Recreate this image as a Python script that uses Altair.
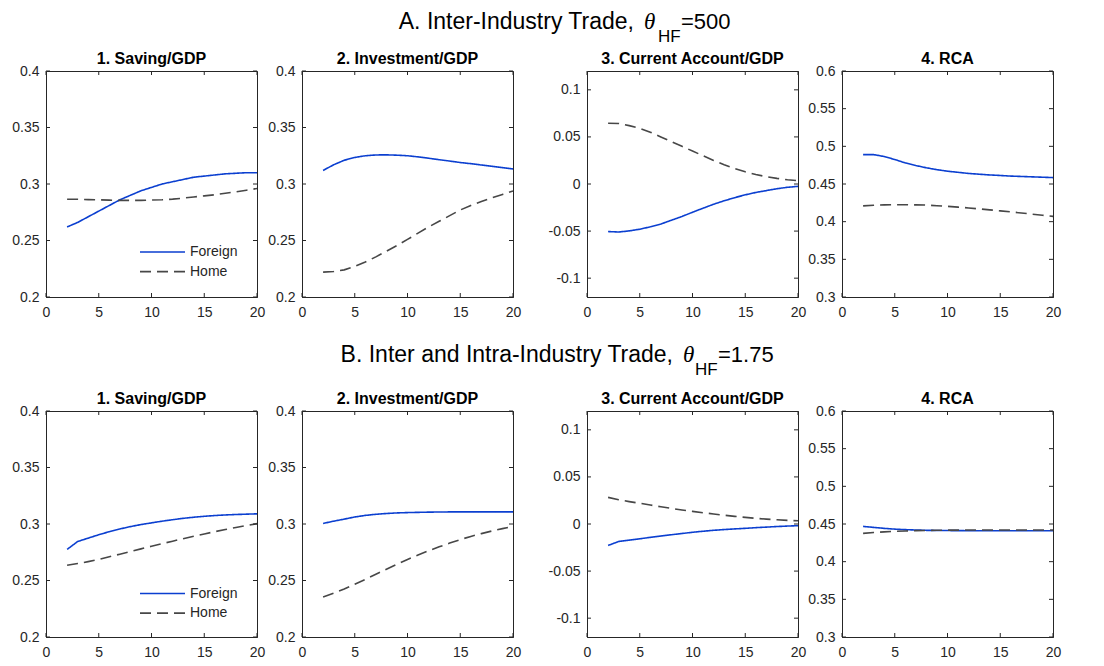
import altair as alt
import pandas as pd

FONT = "Liberation Sans"
SERIF = "Liberation Serif"
INK = "#262626"
BLUE = "#0b3fd0"
GRAY = "#474747"

X = [2, 3, 4, 5, 6, 7, 8, 9, 10, 11, 12, 13, 14, 15, 16, 17, 18, 19, 20]
XTICKS = [0, 5, 10, 15, 20]
SERIES = ["Foreign", "Home"]

# Panel A: Inter-Industry Trade
A_SAV_F = [0.262, 0.266, 0.271, 0.276, 0.281, 0.286, 0.290, 0.294, 0.297, 0.300, 0.302, 0.304, 0.306, 0.307, 0.308, 0.309, 0.3095, 0.310, 0.310]
A_SAV_H = [0.2865, 0.2865, 0.2862, 0.286, 0.2857, 0.2855, 0.2855, 0.2855, 0.2858, 0.286, 0.2866, 0.2875, 0.2885, 0.2895, 0.2905, 0.2918, 0.293, 0.2945, 0.296]
A_INV_F = [0.312, 0.317, 0.321, 0.3235, 0.325, 0.3257, 0.3258, 0.3255, 0.325, 0.324, 0.3228, 0.3215, 0.3203, 0.319, 0.318, 0.3168, 0.3157, 0.3145, 0.3133]
A_INV_H = [0.222, 0.2225, 0.224, 0.227, 0.231, 0.2355, 0.2405, 0.2455, 0.251, 0.2565, 0.262, 0.267, 0.272, 0.277, 0.281, 0.2845, 0.2878, 0.2908, 0.2938]
A_CA_F = [-0.0505, -0.051, -0.0498, -0.048, -0.0455, -0.0425, -0.0385, -0.0345, -0.030, -0.0257, -0.0215, -0.0178, -0.0145, -0.0115, -0.009, -0.007, -0.005, -0.0035, -0.0025]
A_CA_H = [0.0645, 0.0643, 0.062, 0.059, 0.055, 0.050, 0.045, 0.040, 0.035, 0.030, 0.025, 0.0205, 0.0165, 0.013, 0.010, 0.0078, 0.006, 0.0045, 0.0035]
A_RCA_F = [0.489, 0.489, 0.4865, 0.4825, 0.478, 0.4745, 0.4715, 0.469, 0.467, 0.4655, 0.464, 0.463, 0.462, 0.4613, 0.4605, 0.46, 0.4595, 0.459, 0.4585]
A_RCA_H = [0.421, 0.4218, 0.4223, 0.4225, 0.4225, 0.4223, 0.422, 0.4212, 0.4203, 0.4193, 0.4182, 0.417, 0.4157, 0.4143, 0.413, 0.4115, 0.41, 0.4085, 0.407]

# Panel B: Inter and Intra-Industry Trade
B_SAV_F = [0.2775, 0.2845, 0.2875, 0.2905, 0.2932, 0.2956, 0.2977, 0.2995, 0.301, 0.3025, 0.3038, 0.305, 0.306, 0.3068, 0.3075, 0.308, 0.3084, 0.3087, 0.309]
B_SAV_H = [0.2635, 0.265, 0.2667, 0.2686, 0.271, 0.2733, 0.2757, 0.278, 0.2803, 0.2826, 0.2848, 0.287, 0.2891, 0.2912, 0.2932, 0.2951, 0.2969, 0.2986, 0.3003]
B_INV_F = [0.3005, 0.3025, 0.3043, 0.3062, 0.3076, 0.3086, 0.3093, 0.3098, 0.3101, 0.3103, 0.3105, 0.3106, 0.3107, 0.3107, 0.3107, 0.3107, 0.3107, 0.3107, 0.3107]
B_INV_H = [0.2355, 0.2388, 0.2425, 0.2466, 0.251, 0.2555, 0.26, 0.2643, 0.2686, 0.2725, 0.2763, 0.2798, 0.2831, 0.2862, 0.289, 0.2915, 0.2938, 0.2959, 0.2979]
B_CA_F = [-0.0228, -0.0186, -0.0171, -0.0157, -0.0142, -0.0128, -0.0114, -0.0101, -0.0088, -0.0077, -0.0067, -0.0059, -0.0052, -0.0046, -0.0039, -0.0033, -0.0027, -0.0022, -0.0018]
B_CA_H = [0.0283, 0.0258, 0.0238, 0.022, 0.0201, 0.0183, 0.0166, 0.0149, 0.0134, 0.012, 0.0106, 0.0093, 0.0081, 0.007, 0.006, 0.0052, 0.0045, 0.0039, 0.0034]
B_RCA_F = [0.4468, 0.4455, 0.4442, 0.4432, 0.4425, 0.442, 0.4416, 0.4414, 0.4413, 0.4412, 0.4411, 0.4411, 0.441, 0.441, 0.441, 0.441, 0.441, 0.441, 0.441]
B_RCA_H = [0.4375, 0.4387, 0.4396, 0.4403, 0.4408, 0.4412, 0.4415, 0.4417, 0.4418, 0.4419, 0.442, 0.442, 0.442, 0.442, 0.442, 0.442, 0.442, 0.442, 0.442]

PANEL_TITLES = ["1. Saving/GDP", "2. Investment/GDP", "3. Current Account/GDP", "4. RCA"]
Y_DOMAINS = [[0.2, 0.4], [0.2, 0.4], [-0.12, 0.12], [0.3, 0.6]]
Y_TICKS = [
    [0.2, 0.25, 0.3, 0.35, 0.4],
    [0.2, 0.25, 0.3, 0.35, 0.4],
    [-0.1, -0.05, 0, 0.05, 0.1],
    [0.3, 0.35, 0.4, 0.45, 0.5, 0.55, 0.6],
]
ROW_A_TITLE = ["A. Inter-Industry Trade,", "θ", "HF", "=500"]
ROW_B_TITLE = ["B. Inter and Intra-Industry Trade,", "θ", "HF", "=1.75"]

W, H = 211, 226
Y_EXT = [34, 35, 64, 31]
TITLE_OFFSET = [-3, -3, 4, -3]
TICK = 4


def panel(i, foreign, home, legend_y=None):
    df = pd.DataFrame({
        "x": X + X,
        "y": list(foreign) + list(home),
        "s": ["Foreign"] * len(X) + ["Home"] * len(X),
    })
    xs = alt.Scale(domain=[0, 20], nice=False, zero=False)
    ys = alt.Scale(domain=Y_DOMAINS[i], nice=False, zero=False)
    common = dict(title=None, grid=False, domain=True, domainColor=INK, domainWidth=1,
                  ticks=False,
                  labelFont=FONT, labelFontSize=14, labelColor=INK,
                  labelFlush=False, labelOverlap=False, labelBound=False,
                  labelExpr="'' + datum.value")
    xaxis = alt.Axis(values=XTICKS, labelPadding=8, **common)
    yaxis = alt.Axis(values=Y_TICKS[i], labelPadding=7,
                     minExtent=Y_EXT[i], maxExtent=Y_EXT[i], **common)
    if legend_y is not None:
        leg = alt.Legend(title=None, orient="none", legendX=108, legendY=legend_y,
                         symbolType="M-3,0H3", symbolSize=225, symbolStrokeWidth=1.6,
                         labelFont=FONT, labelFontSize=14, labelColor=INK,
                         labelOffset=19, rowPadding=3.6, padding=0)
    else:
        leg = None
    lines = alt.Chart(df).mark_line(strokeWidth=1.6).encode(
        x=alt.X("x:Q", scale=xs, axis=xaxis),
        y=alt.Y("y:Q", scale=ys, axis=yaxis),
        color=alt.Color("s:N", scale=alt.Scale(domain=SERIES, range=[BLUE, GRAY]), legend=leg),
        strokeDash=alt.StrokeDash("s:N", scale=alt.Scale(domain=SERIES, range=[[1, 0], [11, 6]]), legend=leg),
    )
    xt = pd.DataFrame({"x": XTICKS})
    yt = pd.DataFrame({"y": Y_TICKS[i]})
    rule = dict(color=INK, strokeWidth=1)
    xb = alt.Chart(xt).mark_rule(**rule).encode(
        x=alt.X("x:Q", scale=xs, axis=xaxis), y=alt.value(H), y2=alt.value(H - TICK))
    xtp = alt.Chart(xt).mark_rule(**rule).encode(
        x=alt.X("x:Q", scale=xs, axis=xaxis), y=alt.value(0), y2=alt.value(TICK))
    yl = alt.Chart(yt).mark_rule(**rule).encode(
        y=alt.Y("y:Q", scale=ys, axis=yaxis), x=alt.value(0), x2=alt.value(TICK))
    yr = alt.Chart(yt).mark_rule(**rule).encode(
        y=alt.Y("y:Q", scale=ys, axis=yaxis), x=alt.value(W), x2=alt.value(W - TICK))
    return alt.layer(lines, xb, xtp, yl, yr).properties(
        width=W, height=H,
        view=alt.ViewBackground(stroke=INK, strokeWidth=1, fill="white"),
        title=alt.TitleParams(PANEL_TITLES[i], font=FONT, fontSize=16,
                              fontWeight="bold", color="black",
                              offset=TITLE_OFFSET[i]),
    )


def title_chart(parts, x_right, x_theta, x_sub, x_rest, y_base, h):
    d = pd.DataFrame({"k": [0]})
    base = alt.Chart(d)
    t1 = base.mark_text(text=parts[0], align="right", baseline="alphabetic",
                        font=FONT, fontSize=23, color="black").encode(
        x=alt.value(x_right), y=alt.value(y_base))
    t2 = base.mark_text(text=parts[1], align="left", baseline="alphabetic",
                        font=SERIF, fontStyle="italic", fontSize=23, color="black").encode(
        x=alt.value(x_theta), y=alt.value(y_base))
    t3 = base.mark_text(text=parts[2], align="left", baseline="alphabetic",
                        font=FONT, fontSize=17, color="black").encode(
        x=alt.value(x_sub), y=alt.value(y_base + 13))
    t4 = base.mark_text(text=parts[3], align="left", baseline="alphabetic",
                        font=FONT, fontSize=22, color="black").encode(
        x=alt.value(x_rest), y=alt.value(y_base))
    return alt.layer(t1, t2, t3, t4).properties(
        width=1000, height=h, view=alt.ViewBackground(stroke="transparent"))


def row(data, legend_y):
    charts = [panel(i, f, h, legend_y if i == 0 else None) for i, (f, h) in enumerate(data)]
    return alt.hconcat(*charts, spacing=0).resolve_scale(
        x="independent", y="independent", color="independent", strokeDash="independent")


rowA = row([(A_SAV_F, A_SAV_H), (A_INV_F, A_INV_H), (A_CA_F, A_CA_H), (A_RCA_F, A_RCA_H)], 172.5)
rowB = row([(B_SAV_F, B_SAV_H), (B_INV_F, B_INV_H), (B_CA_F, B_CA_H), (B_RCA_F, B_RCA_H)], 174)

titleA = title_chart(ROW_A_TITLE, 588, 598, 612, 635, 20, 40)
titleB = title_chart(ROW_B_TITLE, 627, 637, 649, 672, 41, 68)

chart = alt.vconcat(titleA, rowA, titleB, rowB, spacing=0).resolve_scale(
    x="independent", y="independent", color="independent", strokeDash="independent"
).properties(
    padding={"left": 3, "top": 0, "right": 5, "bottom": 5},
    background="white",
)

chart.save("out.html", embed_options={"renderer": "svg", "actions": False})
